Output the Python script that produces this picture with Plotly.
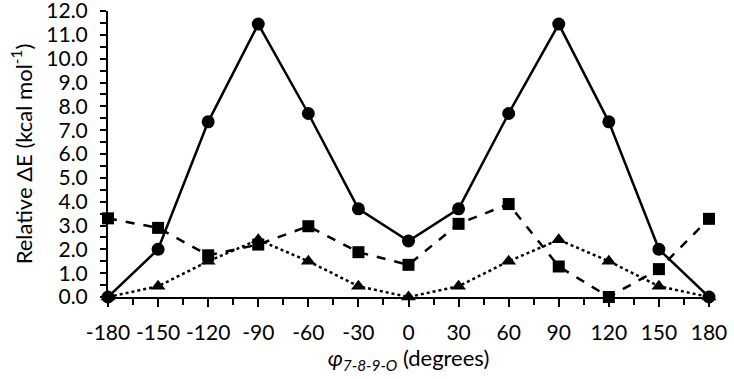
import plotly.graph_objects as go

angles = [-180, -150, -120, -90, -60, -30, 0, 30, 60, 90, 120, 150, 180]
circle_vals = [0.0, 2.0, 7.35, 11.45, 7.7, 3.7, 2.35, 3.7, 7.7, 11.45, 7.35, 2.0, 0.0]
square_vals = [3.3, 2.9, 1.75, 2.2, 2.97, 1.88, 1.35, 3.07, 3.9, 1.28, 0.0, 1.17, 3.28]
triangle_vals = [0.0, 0.45, 1.5, 2.4, 1.5, 0.45, 0.0, 0.45, 1.5, 2.4, 1.5, 0.45, 0.0]

x_tick_vals = angles
x_tick_text = [str(a) for a in angles]
y_tick_vals = [i * 1.0 for i in range(13)]
y_tick_text = [f"{v:.1f}" for v in y_tick_vals]

font_family = "Lato"

fig = go.Figure()
fig.add_trace(go.Scatter(x=angles, y=square_vals, mode="lines+markers",
                         line=dict(color="black", width=2.5, dash="dash"),
                         marker=dict(symbol="square", size=12, color="black"),
                         cliponaxis=False, showlegend=False))
fig.add_trace(go.Scatter(x=angles, y=triangle_vals, mode="lines+markers",
                         line=dict(color="black", width=2.5, dash="dot"),
                         marker=dict(symbol="triangle-up", size=13, color="black"),
                         cliponaxis=False, showlegend=False))
fig.add_trace(go.Scatter(x=angles, y=circle_vals, mode="lines+markers",
                         line=dict(color="black", width=2.5),
                         marker=dict(symbol="circle", size=13, color="black"),
                         cliponaxis=False, showlegend=False))

fig.update_layout(
    width=734, height=379,
    margin=dict(l=108, r=25, t=11, b=82, autoexpand=False),
    paper_bgcolor="white", plot_bgcolor="white",
    font=dict(family=font_family, color="black", size=21),
    xaxis=dict(range=[-180, 180], tickvals=x_tick_vals, ticktext=x_tick_text,
               automargin=False, ticklabeloverflow="allow",
               showgrid=False, zeroline=False, showline=True, linecolor="black", linewidth=2,
               ticks="outside", ticklen=8, tickwidth=2, tickcolor="black",
               ticklabelstandoff=8,
               minor=dict(dtick=15, tick0=-180, ticks="outside", ticklen=6, tickwidth=2, tickcolor="black"),
               tickfont=dict(family=font_family, size=21),
               title=dict(text="<i>φ<sub>7-8-9-O</sub></i> (degrees)", font=dict(family=font_family, size=22), standoff=5)),
    yaxis=dict(range=[0, 12.0001], tickvals=y_tick_vals, ticktext=y_tick_text,
               automargin=False, ticklabeloverflow="allow",
               showgrid=False, zeroline=False, showline=True, linecolor="black", linewidth=2,
               ticks="outside", ticklen=6, tickwidth=2, tickcolor="black",
               ticklabelstandoff=8,
               minor=dict(dtick=0.5, tick0=0, ticks="outside", ticklen=6, tickwidth=2, tickcolor="black"),
               tickfont=dict(family=font_family, size=21),
               title=dict(text="Relative ΔE (kcal mol<sup>-1</sup>)", font=dict(family=font_family, size=22), standoff=8)),
)

fig.write_html("out.html", config={"displayModeBar": False},
               post_script="document.body.style.margin='0';document.body.style.overflow='hidden';")
